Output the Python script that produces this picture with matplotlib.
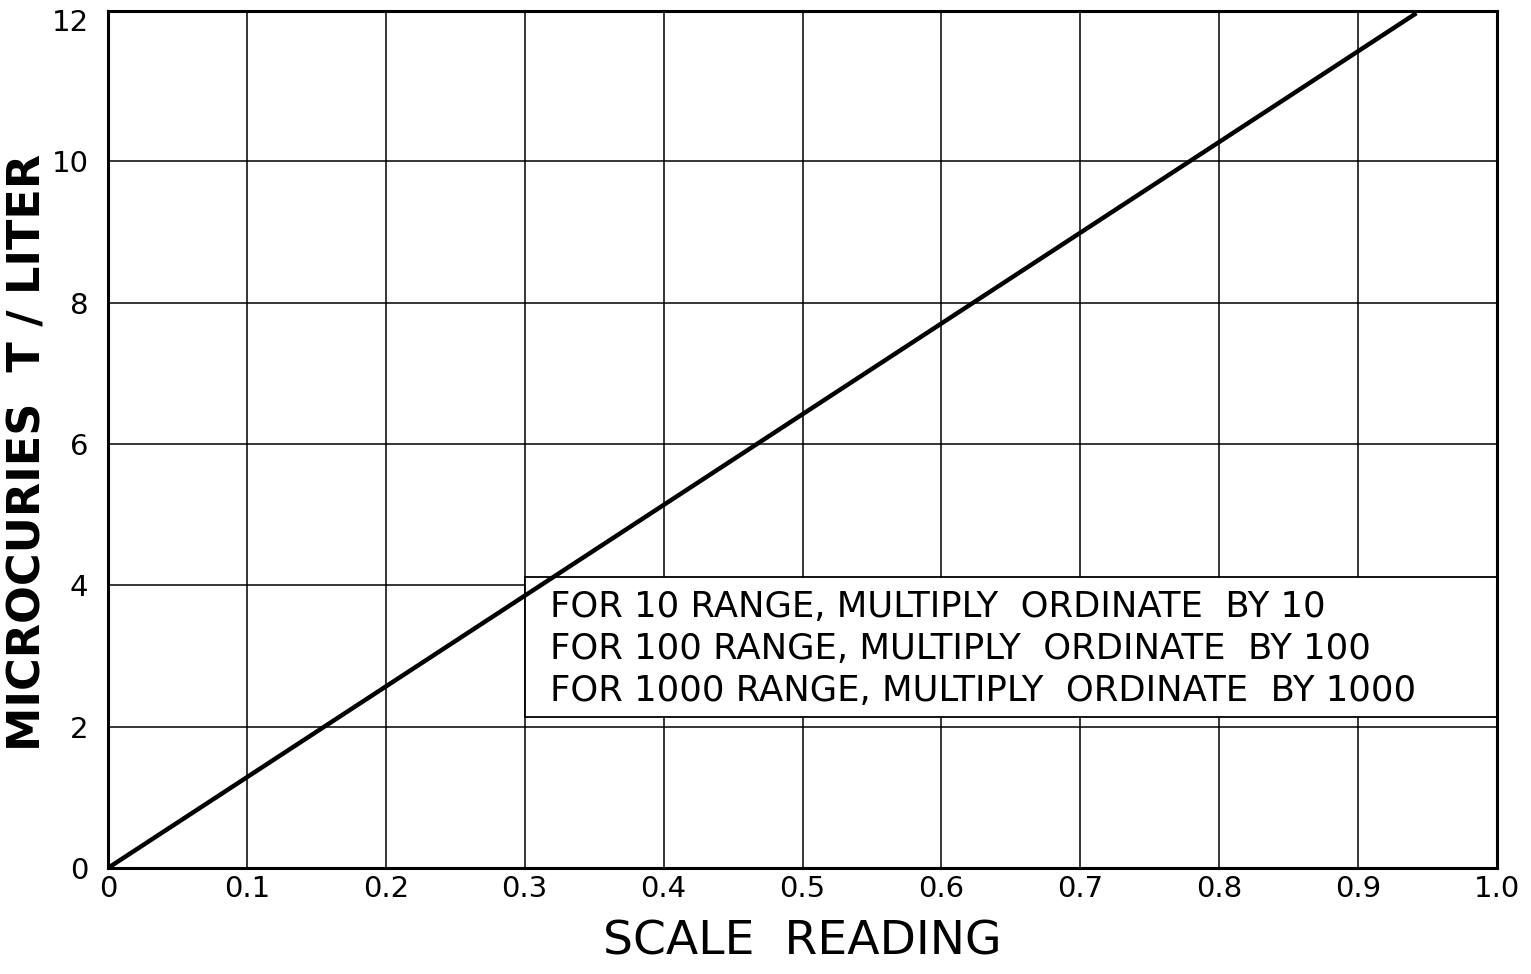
import numpy as np
import matplotlib.pyplot as plt
from matplotlib.patches import Rectangle

# Данные
scale_reading = [0.0, 0.942]
microcuries = [0.0, 12.1]

x_ticks = [0, 0.1, 0.2, 0.3, 0.4, 0.5, 0.6, 0.7, 0.8, 0.9, 1.0]
x_tick_labels = ["0", "0.1", "0.2", "0.3", "0.4", "0.5", "0.6", "0.7", "0.8", "0.9", "1.0"]
y_ticks = [0, 2, 4, 6, 8, 10, 12]
y_tick_labels = ["0", "2", "4", "6", "8", "10", "12"]

note_lines = [
    "FOR 10 RANGE, MULTIPLY  ORDINATE  BY 10",
    "FOR 100 RANGE, MULTIPLY  ORDINATE  BY 100",
    "FOR 1000 RANGE, MULTIPLY  ORDINATE  BY 1000",
]

plt.rcParams['font.family'] = ['DejaVu Sans']

fig = plt.figure(figsize=(15.31, 9.74), dpi=100)
ax = fig.add_axes([108 / 1531, 1 - 868 / 974, (1497 - 108) / 1531, (868 - 11) / 974])

ax.set_xlim(0, 1.0)
ax.set_ylim(0, 12.13)

# сетка (без линии на 12 — там рамка)
for xv in x_ticks[1:-1]:
    ax.axvline(xv, color='black', linewidth=1.1, zorder=1)
for yv in y_ticks[1:-1]:
    ax.axhline(yv, color='black', linewidth=1.1, zorder=1)

# белая плашка с примечанием поверх сетки
box = Rectangle((0.3, 2.14), 0.7, 1.98, facecolor='white', edgecolor='black',
                linewidth=1.3, zorder=2)
ax.add_patch(box)

ax.plot(scale_reading, microcuries, color='black', linewidth=3.2, zorder=4,
        solid_capstyle='butt')

for i, line in enumerate(note_lines):
    ax.text(0.318, 3.7 - i * 0.6, line, fontsize=25.5, ha='left', va='center', zorder=3)

ax.set_xticks(x_ticks)
ax.set_xticklabels(x_tick_labels, fontsize=21)
ax.set_yticks(y_ticks)
ax.set_yticklabels(y_tick_labels, fontsize=21)
ax.tick_params(axis='x', length=0, pad=5)
ax.tick_params(axis='y', length=0, pad=14)

for s in ax.spines.values():
    s.set_linewidth(2.2)

ax.set_xlabel("SCALE  READING", fontsize=34, labelpad=12)
ax.set_ylabel("MICROCURIES  T / LITER", fontsize=32, fontweight='bold')
ax.yaxis.set_label_coords(-0.042, 0.485)

fig.savefig("out.png", dpi=100)
